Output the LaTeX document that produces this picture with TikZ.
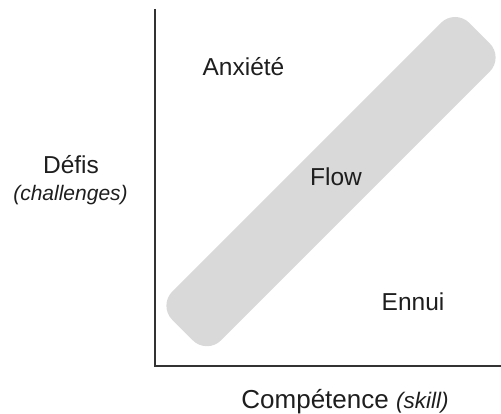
\documentclass[tikz,border=0pt]{standalone}
\usepackage{fontspec}
\setmainfont{Liberation Sans}
\definecolor{band}{HTML}{D9D9D9}
\definecolor{axis}{HTML}{333333}
\definecolor{txt}{HTML}{1E1E1E}
\begin{document}
\begin{tikzpicture}[x=1pt,y=-1pt,
  lbl/.style={text=txt,inner sep=0pt,anchor=base,font=\fontsize{24.5}{28}\selectfont},
  sub/.style={text=txt,inner sep=0pt,anchor=base,font=\fontsize{21}{24}\selectfont\itshape},
  axisline/.style={draw=axis,line width=1.4pt}]
\useasboundingbox (0,0) rectangle (501,414);
\node[fill=band,rounded corners=20pt,minimum width=420pt,minimum height=69pt,rotate=45,inner sep=0pt] (flowband) at (331,181.6) {};
\coordinate (top) at (155,9);
\coordinate (origin) at (155,366);
\coordinate (right) at (501,366);
\draw[axisline] (top) -- (origin) -- (right);
\node[lbl] (anx) at (243.5,75.7) {Anxiété};
\node[lbl] (flow) at (336,186) {Flow};
\node[lbl] (ennui) at (413,310) {Ennui};
\node[lbl] (defis) at (71,173.3) {Défis};
\node[sub] (chal) at (70.5,201) {(challenges)};
\node[lbl,font=\fontsize{26}{30}\selectfont] (comp) at (345,408.3) {Compétence {\fontsize{22.5}{26}\selectfont\itshape (skill)}};
\end{tikzpicture}
\end{document}
